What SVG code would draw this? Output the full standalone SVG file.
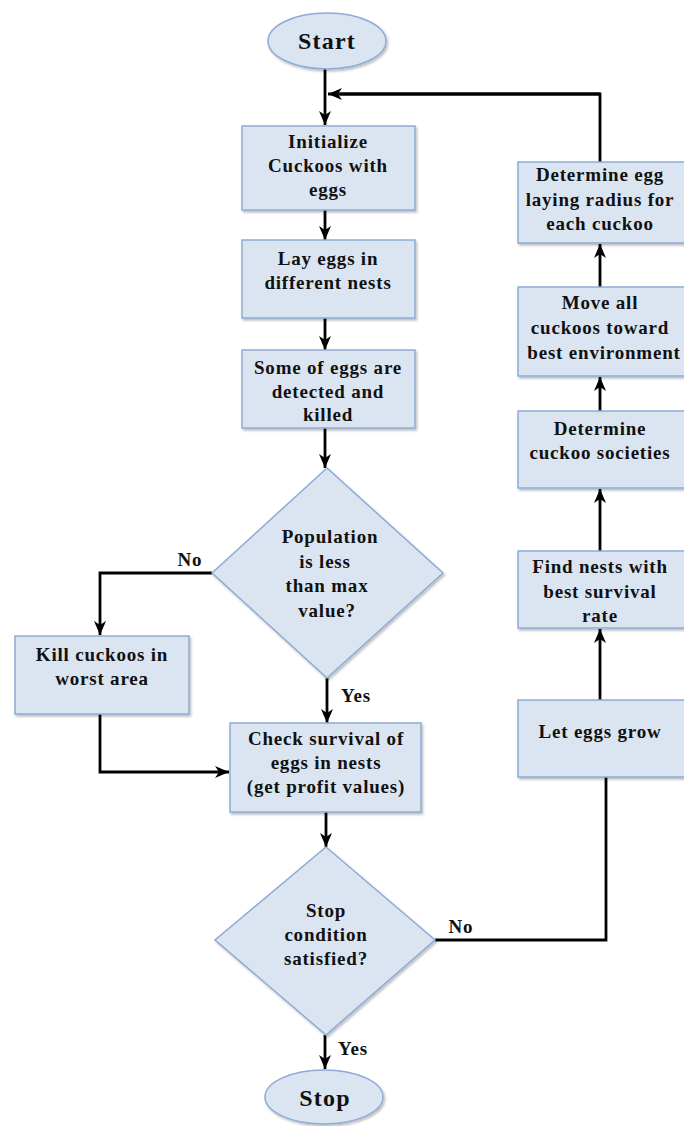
<svg xmlns="http://www.w3.org/2000/svg" width="684" height="1126" viewBox="0 0 684 1126">
<style>
.n{fill:#dbe5f1;stroke:#8eaad6;stroke-width:1.5;filter:url(#sh)}
.t{font-family:"Liberation Serif","Times New Roman",serif;font-weight:bold;font-size:19px;letter-spacing:0.8px;fill:#111;text-anchor:middle}
.big{font-size:24px;letter-spacing:1.2px}
.c{fill:none;stroke:#000;stroke-width:2.8}
.a{marker-end:url(#ah)}
</style>
<defs>
<filter id="sh" x="-10%" y="-10%" width="130%" height="130%">
<feDropShadow dx="1.5" dy="2" stdDeviation="1.2" flood-color="#000" flood-opacity="0.25"/>
</filter>
<marker id="ah" markerUnits="userSpaceOnUse" markerWidth="16" markerHeight="14" refX="14" refY="6" orient="auto">
<path d="M0,0 L14,6 L0,12 L4,6 z" fill="#000"/>
</marker>
</defs>
<rect width="684" height="1126" fill="#fff"/>
<g id="connectors">
<path class="c a" d="M325,69 V125"/>
<path class="c" d="M600,162 V94 H340"/>
<path class="c a" d="M600,94 H328"/>
<path class="c a" d="M325,210 V240"/>
<path class="c a" d="M325,318 V350"/>
<path class="c a" d="M325,428 V468"/>
<path class="c a" d="M212,573 H100 V635"/>
<path class="c a" d="M327,678 V723"/>
<path class="c a" d="M100,714 V772 H229"/>
<path class="c a" d="M326,812 V847"/>
<path class="c" d="M435,940 H606 V777"/>
<path class="c a" d="M325,1035 V1069"/>
<path class="c a" d="M600,700 V629"/>
<path class="c a" d="M600,551 V489"/>
<path class="c a" d="M600,411 V377"/>
<path class="c a" d="M600,287 V244"/>
</g>
<g id="labels">
<text class="t" x="190" y="566">No</text>
<text class="t" x="356" y="702">Yes</text>
<text class="t" x="461" y="933">No</text>
<text class="t" x="353" y="1055">Yes</text>
</g>
<g id="start">
<ellipse class="n" cx="327" cy="41" rx="59" ry="28"/>
<text class="t big" x="327" y="49">Start</text>
</g>
<g id="init">
<rect class="n" x="242" y="126" width="173" height="84"/>
<text class="t" x="328" y="148">Initialize</text>
<text class="t" x="328" y="172">Cuckoos with</text>
<text class="t" x="328" y="196">eggs</text>
</g>
<g id="lay">
<rect class="n" x="242" y="240" width="173" height="78"/>
<text class="t" x="328" y="265">Lay eggs in</text>
<text class="t" x="328" y="289">different nests</text>
</g>
<g id="detect">
<rect class="n" x="242" y="350" width="173" height="78"/>
<text class="t" x="328" y="374">Some of eggs are</text>
<text class="t" x="328" y="398">detected and</text>
<text class="t" x="328" y="421">killed</text>
</g>
<g id="population">
<polygon class="n" points="327,468 443,573 327,678 212,573"/>
<text class="t" x="330" y="543">Population</text>
<text class="t" x="325" y="568">is less</text>
<text class="t" x="327" y="592">than max</text>
<text class="t" x="327" y="617">value?</text>
</g>
<g id="kill">
<rect class="n" x="15" y="636" width="174" height="78"/>
<text class="t" x="102" y="661">Kill cuckoos in</text>
<text class="t" x="102" y="685">worst area</text>
</g>
<g id="check">
<rect class="n" x="230" y="723" width="191" height="89"/>
<text class="t" x="326" y="745">Check survival of</text>
<text class="t" x="326" y="769">eggs in nests</text>
<text class="t" x="326" y="793">(get profit values)</text>
</g>
<g id="stopcond">
<polygon class="n" points="326,847 435,940 326,1035 215,940"/>
<text class="t" x="326" y="917">Stop</text>
<text class="t" x="326" y="941">condition</text>
<text class="t" x="326" y="965">satisfied?</text>
</g>
<g id="stop">
<ellipse class="n" cx="324" cy="1097" rx="59" ry="27"/>
<text class="t big" x="325" y="1106">Stop</text>
</g>
<g id="radius">
<rect class="n" x="518" y="162" width="182" height="81"/>
<text class="t" x="600" y="181">Determine egg</text>
<text class="t" x="600" y="206">laying radius for</text>
<text class="t" x="600" y="230">each cuckoo</text>
</g>
<g id="move">
<rect class="n" x="518" y="287" width="182" height="89"/>
<text class="t" x="600" y="309">Move all</text>
<text class="t" x="600" y="334">cuckoos toward</text>
<text class="t" x="604" y="359">best environment</text>
</g>
<g id="societies">
<rect class="n" x="518" y="411" width="182" height="77"/>
<text class="t" x="600" y="435">Determine</text>
<text class="t" x="600" y="459">cuckoo societies</text>
</g>
<g id="findnests">
<rect class="n" x="518" y="551" width="182" height="77"/>
<text class="t" x="600" y="573">Find nests with</text>
<text class="t" x="600" y="598">best survival</text>
<text class="t" x="600" y="622">rate</text>
</g>
<g id="grow">
<rect class="n" x="518" y="700" width="182" height="77"/>
<text class="t" x="600" y="738">Let eggs grow</text>
</g>
</svg>
